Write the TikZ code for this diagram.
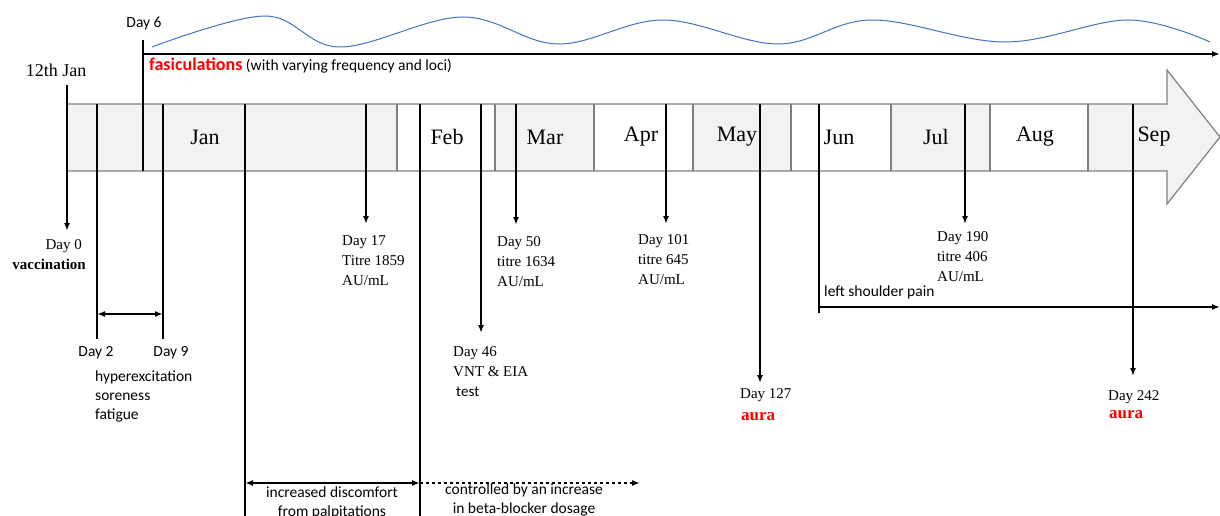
\documentclass[tikz,border=0pt]{standalone}
\usepackage{fontspec}
\setmainfont{Liberation Serif}
\setsansfont{Carlito}
\usetikzlibrary{arrows.meta,positioning}
\definecolor{bandgray}{RGB}{242,242,242}
\definecolor{edgegray}{RGB}{127,127,127}
\definecolor{waveblue}{RGB}{68,114,196}
\definecolor{aurared}{RGB}{255,0,0}

\begin{document}
\begin{tikzpicture}[x=1pt,y=-1pt,>={Latex[length=8pt,width=6pt]},
    evt/.style={line width=1.6pt},
    sep/.style={draw=edgegray,line width=1.2pt},
    month/.style={font=\fontsize{22}{26}\selectfont,inner sep=0pt},
    note/.style={font=\fontsize{15}{20}\selectfont,align=left,inner sep=0pt},
    snote/.style={font=\sffamily\fontsize{15.5}{19}\selectfont,align=left,inner sep=0pt},
    aura/.style={font=\bfseries\fontsize{17}{20}\selectfont,text=aurared,inner sep=0pt}]
  \useasboundingbox (0,0) rectangle (1220,516);

  % month band
  \filldraw[fill=bandgray,draw=edgegray,line width=1.2pt] (67,104) -- (1167,104) -- (1167,70)
    -- (1220,137) -- (1167,204) -- (1167,171) -- (67,171) -- cycle;
  \foreach \a/\b in {397/495,594/693,791/891,990/1088}
    \fill[white] (\a,104.6) rectangle (\b,170.4);
  \foreach \x in {397,495,594,693,791,891,990,1088}
    \draw[sep] (\x,104) -- (\x,171);
  \foreach \m/\x in {Jan/205,Feb/447,Mar/545,Apr/641,May/737,Jun/839,Jul/936,Aug/1035,Sep/1154}
    \node[month] (\m) at (\x,137) {\m};
  \node[font=\fontsize{18}{22}\selectfont] (start) at (56,70) {12th Jan};

  % fasciculations
  \draw[waveblue,line width=1pt] plot[smooth,tension=.6] coordinates {(152,47) (265,16) (340,47)
    (462,17) (558,44) (663,20) (778,44) (872,20) (1005,42) (1128,20) (1210,42)};
  \coordinate (d6) at (143,171);
  \coordinate (d6t) at (143,40);
  \coordinate (d6h) at (143,54);
  \coordinate (fasend) at (1220,54);
  \draw[evt] (d6) -- (d6t);
  \draw[evt,->] (d6h) -- (fasend);
  \node[snote] (lab6) at (144,24) {Day 6};
  \node[snote,anchor=west] (fas) at (149,66) {\textcolor{aurared}{\bfseries\fontsize{18}{19}\selectfont fasiculations} (with varying frequency and loci)};

  % day 0
  \coordinate (d0) at (67,85);
  \coordinate (d0e) at (67,231);
  \draw[evt,->] (d0) -- (d0e);
  \node[note,align=right,anchor=north east] (lab0) at (86,239) {Day 0\hspace*{4pt}\\\textbf{vaccination}};

  % day 2 - day 9
  \coordinate (d2) at (97,104);
  \coordinate (d2e) at (97,339);
  \coordinate (d9) at (163,104);
  \coordinate (d9e) at (163,339);
  \coordinate (d2m) at (97,314);
  \coordinate (d9m) at (163,314);
  \draw[evt] (d2) -- (d2e);
  \draw[evt] (d9) -- (d9e);
  \draw[evt,<->] (d2m) -- (d9m);
  \node[snote] (lab2) at (96,353) {Day 2};
  \node[snote] (lab9) at (171,353) {Day 9};
  \node[snote,anchor=north west] (sympt) at (95,371) {hyperexcitation\\soreness\\fatigue};

  % palpitations
  \coordinate (p1) at (245,104);
  \coordinate (p1e) at (245,516);
  \coordinate (p2) at (420,104);
  \coordinate (p2e) at (420,516);
  \coordinate (p1m) at (245,483);
  \coordinate (p2m) at (420,483);
  \coordinate (p3m) at (640,483);
  \draw[evt] (p1) -- (p1e);
  \draw[evt] (p2) -- (p2e);
  \draw[evt,<->] (p1m) -- (p2m);
  \draw[evt,dashed,->] (p2m) -- (p3m);
  \node[snote,align=center,anchor=north] (palp) at (332,487) {increased discomfort\\from palpitations};
  \node[snote,align=center,anchor=north] (beta) at (524,484) {controlled by an increase\\in beta-blocker dosage};

  % titres and tests
  \coordinate (d17) at (366,104);
  \coordinate (d17e) at (366,224);
  \draw[evt,->] (d17) -- (d17e);
  \node[note,anchor=north west] (lab17) at (342,235) {Day 17\\Titre 1859\\AU/mL};

  \coordinate (d46) at (481,104);
  \coordinate (d46e) at (481,333);
  \draw[evt,->] (d46) -- (d46e);
  \node[note,anchor=north west] (lab46) at (453,346) {Day 46\\VNT \& EIA\\\hspace*{3pt}\sffamily test};

  \coordinate (d50) at (516,104);
  \coordinate (d50e) at (516,225);
  \draw[evt,->] (d50) -- (d50e);
  \node[note,anchor=north west] (lab50) at (497,236) {Day 50\\titre 1634\\AU/mL};

  \coordinate (d101) at (666,104);
  \coordinate (d101e) at (666,224);
  \draw[evt,->] (d101) -- (d101e);
  \node[note,anchor=north west] (lab101) at (638,234) {Day 101\\titre 645\\AU/mL};

  \coordinate (d127) at (760,104);
  \coordinate (d127e) at (760,383);
  \draw[evt,->] (d127) -- (d127e);
  \node[note,anchor=north west] (lab127) at (740,388) {Day 127};
  \node[aura,anchor=west] (aura1) at (741,417) {aura};

  \coordinate (d190) at (965,104);
  \coordinate (d190e) at (965,224);
  \draw[evt,->] (d190) -- (d190e);
  \node[note,anchor=north west] (lab190) at (937,231) {Day 190\\titre 406\\AU/mL};

  \coordinate (d242) at (1133,104);
  \coordinate (d242e) at (1133,376);
  \draw[evt,->] (d242) -- (d242e);
  \node[note,anchor=north west] (lab242) at (1108,390) {Day 242};
  \node[aura,anchor=west] (aura2) at (1109,415) {aura};

  % shoulder
  \coordinate (sh) at (819,104);
  \coordinate (she) at (819,313);
  \coordinate (shh) at (819,307);
  \coordinate (shend) at (1220,307);
  \draw[evt] (sh) -- (she);
  \draw[evt,->] (shh) -- (shend);
  \node[snote,anchor=west] (shoulder) at (824,292) {left shoulder pain};
\end{tikzpicture}
\end{document}
